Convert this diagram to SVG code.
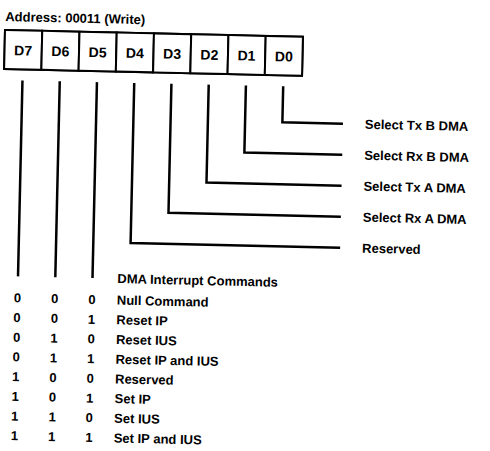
<svg xmlns="http://www.w3.org/2000/svg" width="490" height="451" viewBox="0 0 490 451">
<style>
text{font-family:"Liberation Sans",Arial,sans-serif;font-weight:bold;font-size:13px;fill:#000}
.mid{text-anchor:middle}
.reg{font-size:14px}
.box{fill:#fff;stroke:#000;stroke-width:2}
.ln{fill:none;stroke:#000;stroke-width:2.5;stroke-linejoin:miter}
</style>
<rect width="490" height="451" fill="#fff"/>
<g transform="rotate(1.3 5 30)">
<g id="title"><text x="5" y="21">Address: 00011 (Write)</text></g>
<g id="register">
<rect class="box" x="5" y="30" width="298" height="39"/>
<g id="D7"><rect class="box" x="5" y="30" width="37.25" height="39"/><text class="mid reg" x="23.6" y="55">D7</text></g>
<g id="D6"><rect class="box" x="42.25" y="30" width="37.25" height="39"/><text class="mid reg" x="60.9" y="55">D6</text></g>
<g id="D5"><rect class="box" x="79.5" y="30" width="37.25" height="39"/><text class="mid reg" x="98.1" y="55">D5</text></g>
<g id="D4"><rect class="box" x="116.75" y="30" width="37.25" height="39"/><text class="mid reg" x="135.4" y="55">D4</text></g>
<g id="D3"><rect class="box" x="154" y="30" width="37.25" height="39"/><text class="mid reg" x="172.6" y="55">D3</text></g>
<g id="D2"><rect class="box" x="191.25" y="30" width="37.25" height="39"/><text class="mid reg" x="209.9" y="55">D2</text></g>
<g id="D1"><rect class="box" x="228.5" y="30" width="37.25" height="39"/><text class="mid reg" x="247.1" y="55">D1</text></g>
<g id="D0"><rect class="box" x="265.75" y="30" width="37.25" height="39"/><text class="mid reg" x="284.4" y="55">D0</text></g>
</g>
<g id="connectors">
<path class="ln" d="M23.6 80V276"/>
<path class="ln" d="M60.9 80V276"/>
<path class="ln" d="M98.1 80V276"/>
<path class="ln" d="M135.4 80V240H345"/>
<path class="ln" d="M172.6 80V209H345"/>
<path class="ln" d="M209.9 80V178H345"/>
<path class="ln" d="M247.1 80V147H345"/>
<path class="ln" d="M284.4 80V116H345"/>
</g>
<g id="labels">
<text x="367" y="120.5">Select Tx B DMA</text>
<text x="367" y="151.5">Select Rx B DMA</text>
<text x="367" y="182.5">Select Tx A DMA</text>
<text x="367" y="213.5">Select Rx A DMA</text>
<text x="367" y="244.5">Reserved</text>
</g>
<g id="commands">
<text x="123" y="280.5">DMA Interrupt Commands</text>
<text class="mid" x="23.6" y="302">0</text><text class="mid" x="60.9" y="302">0</text><text class="mid" x="98.1" y="302">0</text>
<text class="mid" x="23.6" y="321.7">0</text><text class="mid" x="60.9" y="321.7">0</text><text class="mid" x="98.1" y="321.7">1</text>
<text class="mid" x="23.6" y="341.4">0</text><text class="mid" x="60.9" y="341.4">1</text><text class="mid" x="98.1" y="341.4">0</text>
<text class="mid" x="23.6" y="361.1">0</text><text class="mid" x="60.9" y="361.1">1</text><text class="mid" x="98.1" y="361.1">1</text>
<text class="mid" x="23.6" y="380.8">1</text><text class="mid" x="60.9" y="380.8">0</text><text class="mid" x="98.1" y="380.8">0</text>
<text class="mid" x="23.6" y="400.5">1</text><text class="mid" x="60.9" y="400.5">0</text><text class="mid" x="98.1" y="400.5">1</text>
<text class="mid" x="23.6" y="420.2">1</text><text class="mid" x="60.9" y="420.2">1</text><text class="mid" x="98.1" y="420.2">0</text>
<text class="mid" x="23.6" y="439.9">1</text><text class="mid" x="60.9" y="439.9">1</text><text class="mid" x="98.1" y="439.9">1</text>
<text x="123" y="302">Null Command</text>
<text x="123" y="321.7">Reset IP</text>
<text x="123" y="341.4">Reset IUS</text>
<text x="123" y="361.1">Reset IP and IUS</text>
<text x="123" y="380.8">Reserved</text>
<text x="123" y="400.5">Set IP</text>
<text x="123" y="420.2">Set IUS</text>
<text x="123" y="439.9">Set IP and IUS</text>
</g>
</g>
</svg>
